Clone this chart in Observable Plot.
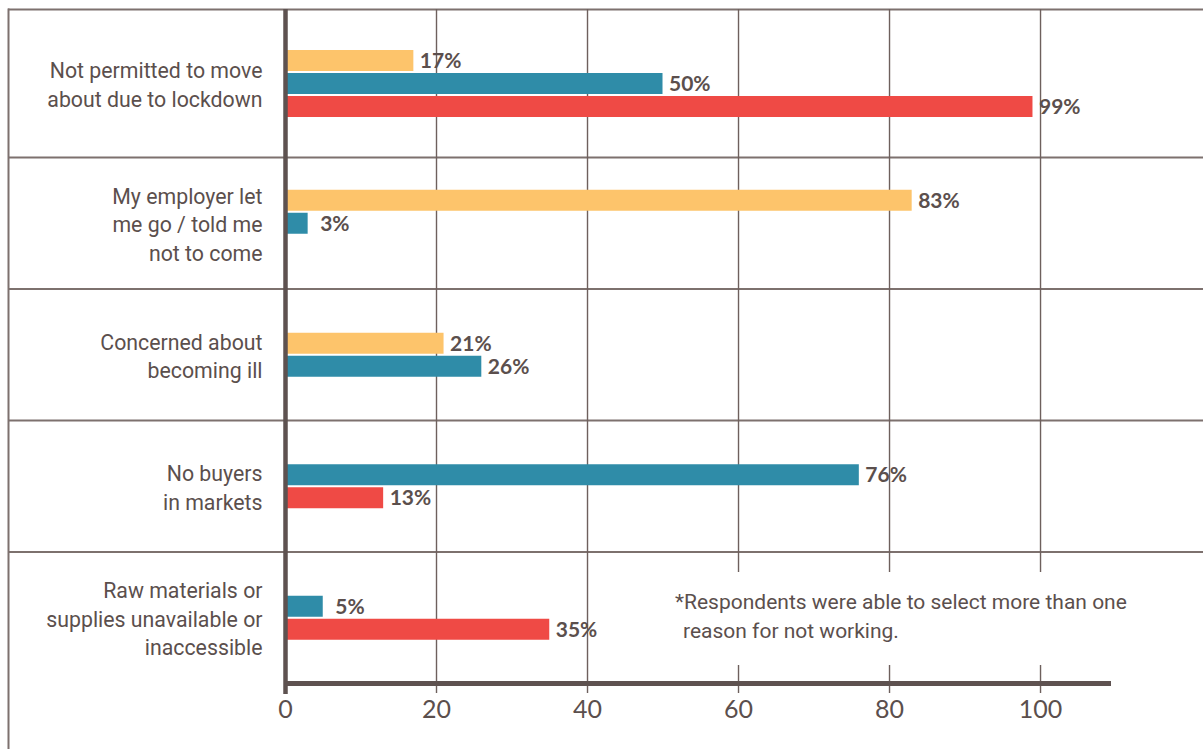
<!DOCTYPE html>
<html>
<head>
<meta charset="utf-8">
<script src="https://cdn.jsdelivr.net/npm/d3@7"></script>
<script src="https://cdn.jsdelivr.net/npm/@observablehq/plot@0.6"></script>
<style>
  html, body { margin: 0; padding: 0; background: #fff; overflow: hidden; }
  #wrap { position: relative; width: 1203px; height: 749px; }
  #note {
    position: absolute; left: 664px; top: 572px; width: 478px; height: 93px;
    background: #fff; box-sizing: border-box; padding: 16px 0 0 19px;
    font: 400 21px Roboto, sans-serif; line-height: 29px; color: #5b4f4d;
    text-indent: -8px; white-space: nowrap;
  }
</style>
</head>
<body>
<div id="wrap"></div>
<script>
// ---- data ----
const categories = [
  "Not permitted to move\nabout due to lockdown",
  "My employer let\nme go / told me\nnot to come",
  "Concerned about\nbecoming ill",
  "No buyers\nin markets",
  "Raw materials or\nsupplies unavailable or\ninaccessible"
];
const seriesNames = ["Group 1", "Group 2", "Group 3"];
const group1 = [17, 83, 21, null, null];
const group2 = [50, 3, 26, 76, 5];
const group3 = [99, 0, null, 13, 35];
const seriesColors = ["#fdc46b", "#2f8ca8", "#ef4a45"];
const xTicks = [0, 20, 40, 60, 80, 100];
const xMax = 109.4;

// ---- build table ----
const seriesValues = [group1, group2, group3];
const bars = [];
categories.forEach((cat, i) => {
  const present = seriesNames.map((s, k) => ({s, v: seriesValues[k][i]})).filter(d => d.v != null);
  const n = present.length;
  present.forEach((d, k) => {
    bars.push({cat, row: i + 0.5, series: d.s, value: d.v, slot: k - (n - 1) / 2});
  });
});
const slots = Array.from(new Set(bars.map(d => d.slot)));

const textColor = "#5b4f4d";
const lineColor = "#6e605d";

const barMarks = slots.map(slot => {
  const sub = bars.filter(d => d.slot === slot);
  return Plot.ruleY(sub, {y: "row", x1: 0, x2: "value", stroke: "series", strokeWidth: 21, dy: slot * 23});
});
const labelMarks = slots.flatMap(slot => {
  const big = bars.filter(d => d.slot === slot && d.value >= 10);
  const small = bars.filter(d => d.slot === slot && d.value > 0 && d.value < 10);
  const opts = dx => ({y: "row", x: "value", text: d => d.value + "%", dy: slot * 23 + 1, dx,
    textAnchor: "start", fill: textColor, fontFamily: "Lato", fontWeight: 700, fontSize: 21});
  return [Plot.text(big, opts(6)), Plot.text(small, opts(12))];
});

const rows = d3.range(categories.length);

const chart = Plot.plot({
  width: 1203,
  height: 749,
  marginLeft: 8,
  marginRight: 0,
  marginTop: 9,
  marginBottom: 0,
  style: {background: "#fff", overflow: "visible"},
  x: {type: "linear", domain: [0, xMax], range: [285, 1111], axis: null},
  y: {type: "linear", domain: [0, 1, categories.length], range: [9, 157, 683], axis: null},
  color: {domain: seriesNames, range: seriesColors},
  marks: [
    // left border
    Plot.frame({anchor: "left", stroke: "#7d716e", strokeWidth: 2}),
    // row dividers (incl. top border)
    Plot.ruleY(rows, {y: d => d, stroke: "#7d716e", strokeWidth: 2}),
    // gridlines
    Plot.ruleX(xTicks.filter(d => d > 0), {x: d => d, y1: 0, y2: categories.length, insetBottom: -10, stroke: lineColor, strokeWidth: 1.4}),
    // bars
    ...barMarks,
    // value labels
    ...labelMarks,
    // baseline
    Plot.ruleX([0], {x: d => d, y1: 0, y2: categories.length, insetBottom: -11, stroke: "#5e5250", strokeWidth: 4.5}),
    // x axis line
    Plot.ruleY([categories.length], {y: d => d, x1: 0, x2: xMax, stroke: "#5e5250", strokeWidth: 5}),
    // tick labels
    Plot.text(xTicks, {x: d => d, y: () => categories.length, dy: 26, text: d => String(d),
      fill: textColor, fontFamily: "Lato", fontWeight: 400, fontSize: 25}),
    // category labels
    Plot.text(categories, {x: () => 0, y: (d, i) => i + 0.5, dx: -23, text: d => d, textAnchor: "end",
      lineAnchor: "middle", lineHeight: 1.34, fill: textColor, fontFamily: "Roboto", fontSize: 21.3})
  ]
});

const wrap = document.getElementById("wrap");
wrap.appendChild(chart);
const note = document.createElement("div");
note.id = "note";
note.innerHTML = "*Respondents were able to select more than one<br>reason for not working.";
wrap.appendChild(note);
</script>
</body>
</html>
